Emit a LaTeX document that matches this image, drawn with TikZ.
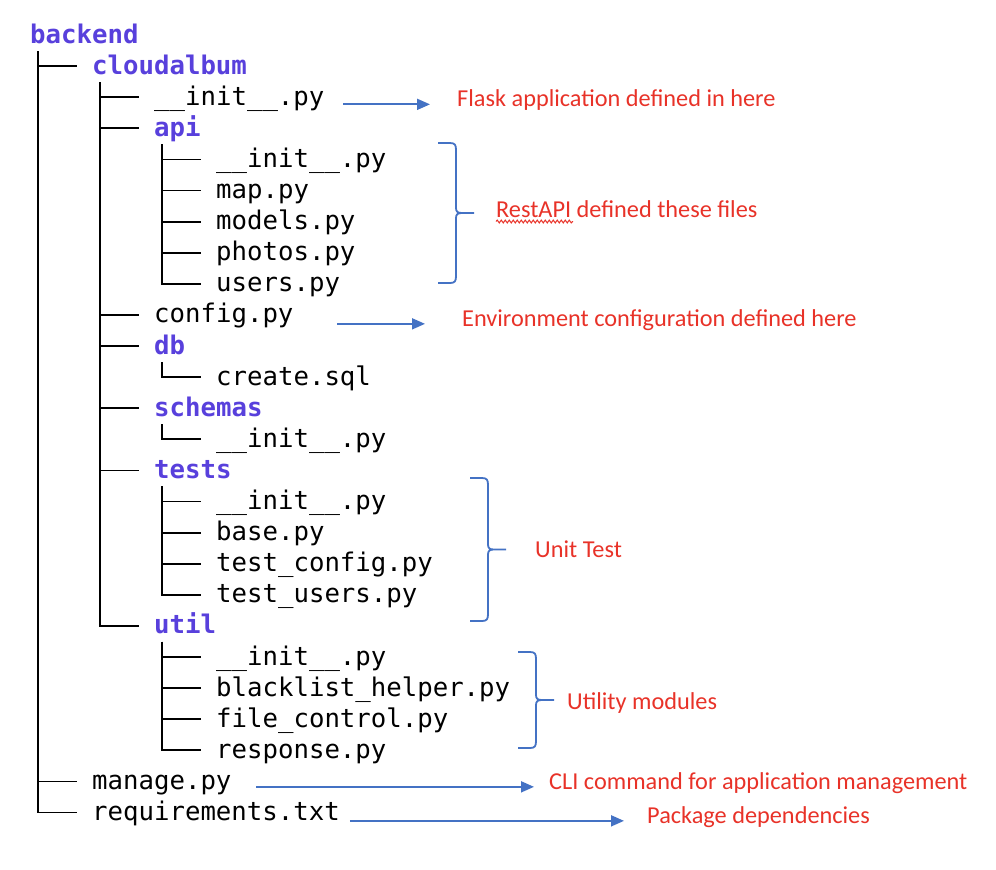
\documentclass[tikz,border=0pt]{standalone}
\usepackage{fontspec}
\setmonofont{DejaVu Sans Mono}
\newfontfamily\notefont{Carlito}
\usetikzlibrary{arrows.meta,calc,decorations.pathmorphing}
\definecolor{dirblue}{RGB}{88,64,220}
\definecolor{notered}{RGB}{232,50,40}
\definecolor{linkblue}{RGB}{68,114,196}
\tikzset{file/.style = {anchor=base west, inner sep=0pt, font=\fontsize{25.7}{31}\selectfont\ttfamily},
    dir/.style = {file, font=\fontsize{25.7}{31}\selectfont\ttfamily\bfseries, text=dirblue},
    note/.style = {anchor=base west, inner sep=0pt, font=\fontsize{24.3}{28}\selectfont\notefont, text=notered},
    twig/.style = {line width=1.8pt},
    link/.style = {linkblue, line width=1.8pt, -{Triangle[length=13pt,width=11pt]}},
    curly/.style = {linkblue, line width=1.8pt}}

\begin{document}
\begin{tikzpicture}[x=1pt, y=-1pt]
        \useasboundingbox (0,0) rectangle (996,870);

        % folders and files, one row every 31.1
        \foreach \n/\x/\r/\t in {backend/30/0/backend, cloudalbum/92/1/cloudalbum, api/154/3/api,
            db/154/10/db, schemas/154/12/schemas, tests/154/14/tests, util/154/19/util}
            \node[dir] (\n) at (\x,{43+31.1*\r}) {\t};
        \foreach \n/\x/\r/\t in {ca-init/154/2/\_\_init\_\_.py, api-init/216/4/\_\_init\_\_.py,
            api-map/216/5/map.py, api-models/216/6/models.py, api-photos/216/7/photos.py,
            api-users/216/8/users.py, config/154/9/config.py, db-create/216/11/create.sql,
            sch-init/216/13/\_\_init\_\_.py, tst-init/216/15/\_\_init\_\_.py, tst-base/216/16/base.py,
            tst-config/216/17/test\_config.py, tst-users/216/18/test\_users.py,
            utl-init/216/20/\_\_init\_\_.py, utl-black/216/21/blacklist\_helper.py,
            utl-file/216/22/file\_control.py, utl-resp/216/23/response.py,
            manage/92/24/manage.py, req/92/25/requirements.txt}
            \node[file] (\n) at (\x,{43+31.1*\r}) {\t};

        % tree lines
        \foreach \p/\c in {backend/cloudalbum, backend/manage, backend/req,
            cloudalbum/ca-init, cloudalbum/api, cloudalbum/config, cloudalbum/db,
            cloudalbum/schemas, cloudalbum/tests, cloudalbum/util,
            api/api-init, api/api-map, api/api-models, api/api-photos, api/api-users,
            db/db-create, schemas/sch-init,
            tests/tst-init, tests/tst-base, tests/tst-config, tests/tst-users,
            util/utl-init, util/utl-black, util/utl-file, util/utl-resp}
            \draw[twig] ($(\p.base west)+(7.75,8)$) |- ($(\c.base west)+(-15.5,-8)$);

        % notes
        \node[note] (flask) at (457,106.5) {Flask application defined in here};
        \node[note] (rest) at (496,217) {RestAPI defined these files};
        \node[note] (env) at (462,326) {Environment configuration defined here};
        \node[note] (unit) at (535,557) {Unit Test};
        \node[note] (utility) at (567,709) {Utility modules};
        \node[note] (cli) at (549,789) {CLI command for application management};
        \node[note] (deps) at (647,823) {Package dependencies};
        \draw[notered, line width=1pt, decorate, decoration={snake, amplitude=1.4pt, segment length=4pt}]
            ($(rest.base west)+(0,4.5)$) -- ++(77,0);

        \draw[link, shorten <=18.5pt, shorten >=27pt] (ca-init.east |- flask.mid west) -- (flask.mid west);
        \draw[link, shorten <=43.5pt, shorten >=37pt] (config.east |- env.mid west) -- (env.mid west);
        \draw[link, shorten <=24.5pt, shorten >=15pt] (manage.east |- cli.mid west) -- (cli.mid west);
        \draw[link, shorten <=10pt, shorten >=23pt] (req.east |- deps.mid west) -- (deps.mid west);

        % braces
        \foreach \xa/\ya/\yb in {438/143/283, 470/478/621, 518/652/748} {
            \pgfmathsetmacro\ym{(\ya+\yb)/2}
            \draw[curly] (\xa,\ya) -- (\xa+12,\ya) .. controls (\xa+17,\ya) and (\xa+18,\ya+2) .. (\xa+18,\ya+7)
                -- (\xa+18,\ym-5) .. controls (\xa+18,\ym-1) and (\xa+20,\ym) .. (\xa+24,\ym) -- (\xa+36,\ym)
                (\xa+24,\ym) .. controls (\xa+20,\ym) and (\xa+18,\ym+1) .. (\xa+18,\ym+5)
                -- (\xa+18,\yb-7) .. controls (\xa+18,\yb-2) and (\xa+17,\yb) .. (\xa+12,\yb) -- (\xa,\yb);
        }
    \end{tikzpicture}
\end{document}
